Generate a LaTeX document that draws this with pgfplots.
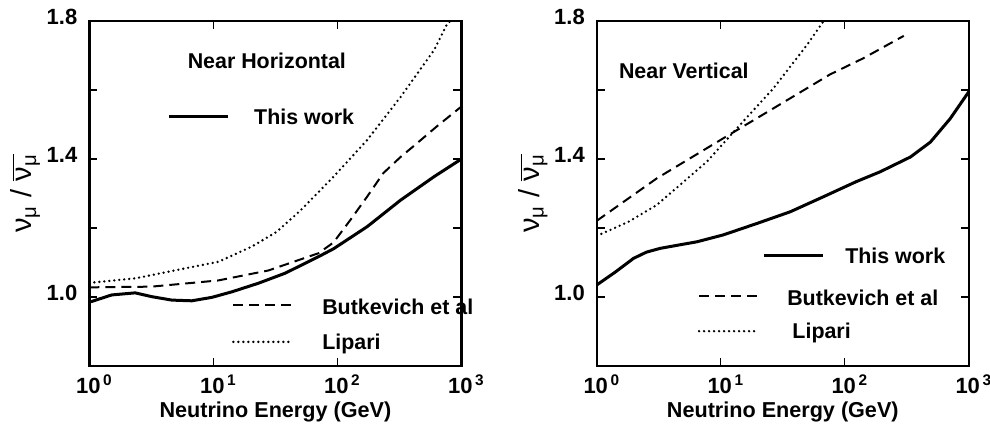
\documentclass[border=0pt]{standalone}
\usepackage{fontspec}
\setmainfont{Liberation Sans}
\usepackage{pgfplots}
\pgfplotsset{compat=1.18}
\tikzset{
  solidc/.style={black, line width=1.5pt, line join=round},
  dashc/.style={black, line width=1pt, dash pattern=on 5pt off 3pt},
  dotc/.style={black, line width=1.3pt, line cap=round, dash pattern=on 0pt off 2.5pt},
  txt/.style={font=\bfseries\fontsize{10.7}{12}\selectfont},
}
\begin{document}
\begin{tikzpicture}
% ---------- left panel ----------
\begin{axis}[
    at={(0pt,0pt)},
    scale only axis, width=186pt, height=172.5pt,
    xmode=log, xmin=1, xmax=1000, ymin=0.8, ymax=1.8,
    xtick={1,10,100,1000},
    xticklabels={{10\textsuperscript{\,0}},{10\textsuperscript{\,1}},{10\textsuperscript{\,2}},{10\textsuperscript{\,3}}},
    xminorticks=false,
    ytick={1.0,1.4,1.8}, yticklabels={1.0,1.4,1.8},
    minor ytick={1.2,1.6},
    tick align=inside, major tick length=4pt, minor tick length=4pt,
    tick style={line width=0.6pt, black},
    axis line style={line width=1.3pt},
    tick label style={font=\bfseries\fontsize{11}{13}\selectfont},
    xticklabel style={anchor=base, yshift=-13.8pt, xshift=2.5pt},
    yticklabel style={anchor=east, xshift=-2.5pt, yshift=2pt},
    xlabel style={at={(axis description cs:0.5,-0.148)}, anchor=base, font=\bfseries\fontsize{10.8}{12}\selectfont},
    ylabel style={at={(axis description cs:-0.172,0.5)}, anchor=center, font=\fontsize{14.5}{17}\selectfont},
    xlabel={Neutrino Energy (GeV)},
    ylabel={ν\textsubscript{μ} / $\overline{\mbox{ν\textsubscript{μ}}}$},
    clip mode=individual,
]
\addplot[solidc] coordinates {
(1,0.985) (1.514,1.006) (2.339,1.012) (3.184,1.001) (4.624,0.991) (6.699,0.989)
(9.73,0.999) (14.09,1.015) (23.1,1.040) (37.9,1.069) (70.5,1.117) (93.3,1.140)
(174,1.204) (324,1.281) (603,1.349) (1000,1.400)};
\addplot[dashc] coordinates {
(1,1.028) (3.16,1.030) (10.96,1.048) (27.8,1.077) (70.5,1.127) (93,1.158)
(125.9,1.221) (173.8,1.291) (234.4,1.359) (323.6,1.406) (436.5,1.445) (631,1.494) (1000,1.552)};
\addplot[dotc] coordinates {
(1,1.041) (2.339,1.054) (5.916,1.083) (10.96,1.102) (20.4,1.146) (32.4,1.189)
(50.1,1.250) (93.3,1.349) (173.8,1.455) (323.6,1.580) (602.6,1.716) (758.6,1.788) (812.8,1.800)};
\node[txt] at (rel axis cs:0.477,0.884) {Near Horizontal};
\draw[solidc] (rel axis cs:0.215,0.722) -- (rel axis cs:0.373,0.722);
\node[txt, anchor=west] at (rel axis cs:0.424,0.722) {This work};
\draw[dashc] (rel axis cs:0.387,0.177) -- (rel axis cs:0.545,0.177);
\node[txt, anchor=west] at (rel axis cs:0.607,0.172) {Butkevich et al};
\draw[dotc] (rel axis cs:0.387,0.070) -- (rel axis cs:0.545,0.070);
\node[txt, anchor=west] at (rel axis cs:0.607,0.065) {Lipari};
\end{axis}
% ---------- right panel ----------
\begin{axis}[
    at={(253.7pt,0pt)},
    scale only axis, width=186pt, height=172.5pt,
    xmode=log, xmin=1, xmax=1000, ymin=0.8, ymax=1.8,
    xtick={1,10,100,1000},
    xticklabels={{10\textsuperscript{\,0}},{10\textsuperscript{\,1}},{10\textsuperscript{\,2}},{10\textsuperscript{\,3}}},
    xminorticks=false,
    ytick={1.0,1.4,1.8}, yticklabels={1.0,1.4,1.8},
    minor ytick={1.2,1.6},
    tick align=inside, major tick length=4pt, minor tick length=4pt,
    tick style={line width=0.6pt, black},
    axis line style={line width=1.3pt},
    tick label style={font=\bfseries\fontsize{11}{13}\selectfont},
    xticklabel style={anchor=base, yshift=-13.8pt, xshift=2.5pt},
    yticklabel style={anchor=east, xshift=-2.5pt, yshift=2pt},
    xlabel style={at={(axis description cs:0.5,-0.148)}, anchor=base, font=\bfseries\fontsize{10.8}{12}\selectfont},
    ylabel style={at={(axis description cs:-0.172,0.5)}, anchor=center, font=\fontsize{14.5}{17}\selectfont},
    xlabel={Neutrino Energy (GeV)},
    ylabel={ν\textsubscript{μ} / $\overline{\mbox{ν\textsubscript{μ}}}$},
    clip mode=individual,
]
\addplot[solidc] coordinates {
(1,1.035) (1.406,1.072) (1.977,1.112) (2.512,1.130) (3.243,1.141) (4.467,1.150)
(6.412,1.160) (10.47,1.180) (19.5,1.213) (36.3,1.247) (67.6,1.291) (123,1.334)
(193,1.363) (339,1.406) (490,1.449) (708,1.517) (1000,1.595)};
\addplot[dashc] coordinates {
(1,1.221) (3.05,1.344) (10.47,1.460) (19.5,1.518) (36.3,1.576) (75.9,1.645)
(141,1.692) (299,1.757)};
\addplot[dotc] coordinates {
(1,1.177) (1.8,1.218) (3.05,1.267) (7.71,1.392) (14.3,1.499) (26.6,1.605)
(49.4,1.730) (67.6,1.800)};
\node[txt] at (rel axis cs:0.234,0.855) {Near Vertical};
\draw[solidc] (rel axis cs:0.450,0.319) -- (rel axis cs:0.609,0.319);
\node[txt, anchor=west] at (rel axis cs:0.649,0.319) {This work};
\draw[dashc] (rel axis cs:0.275,0.203) -- (rel axis cs:0.434,0.203);
\node[txt, anchor=west] at (rel axis cs:0.493,0.198) {Butkevich et al};
\draw[dotc] (rel axis cs:0.275,0.101) -- (rel axis cs:0.434,0.101);
\node[txt, anchor=west] at (rel axis cs:0.507,0.096) {Lipari};
\end{axis}
\pgfresetboundingbox
\path[use as bounding box] (-44.7pt,-32pt) rectangle (450.3pt,183pt);
\end{tikzpicture}
\end{document}
